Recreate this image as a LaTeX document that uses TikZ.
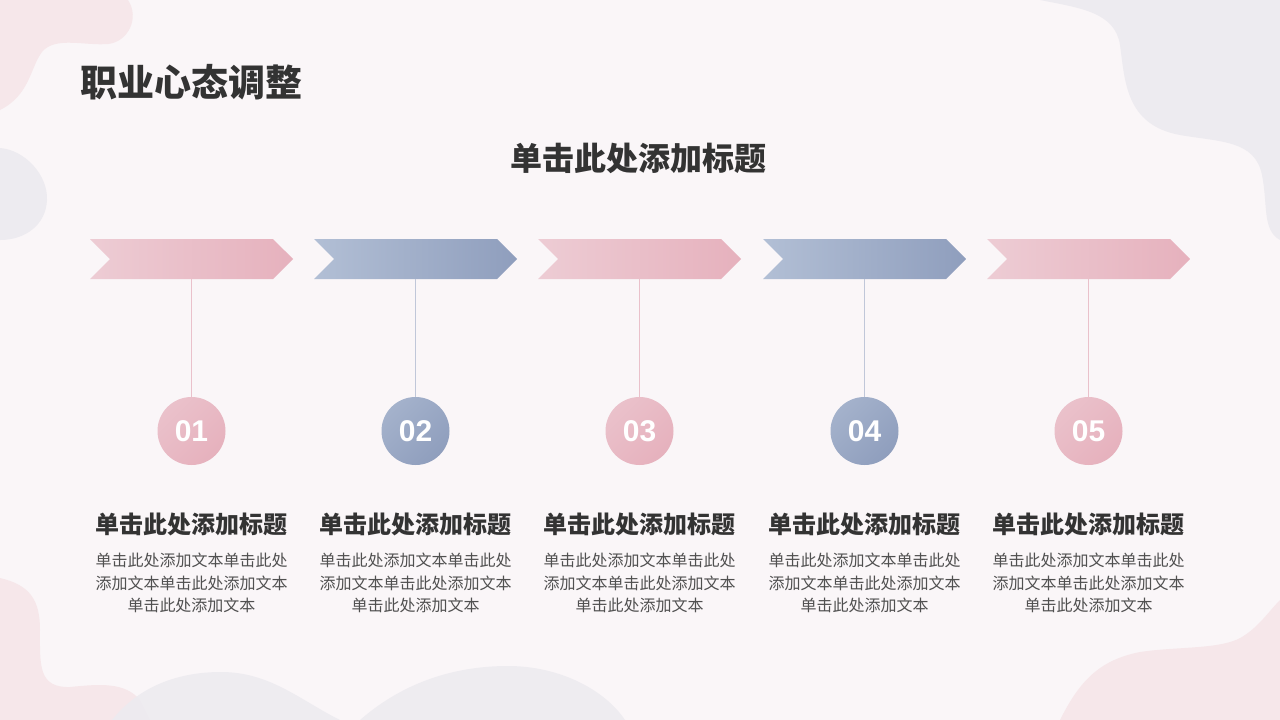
\documentclass[tikz,border=0pt]{standalone}
\usepackage{fontspec}
\setmainfont{Noto Sans CJK SC}
\newfontfamily\numfont{Liberation Sans}
\usepackage{tikz}
\usetikzlibrary{shapes,shapes.symbols,positioning}
\usepackage{xcolor}
\definecolor{bgCol}{HTML}{FAF6F8}
\definecolor{blobPink}{HTML}{F6E7EA}
\definecolor{blobGray}{HTML}{EDEBF0}
\definecolor{pinkL}{HTML}{EDCCD4}
\definecolor{pinkD}{HTML}{E6B1BD}
\definecolor{blueL}{HTML}{B2BFD5}
\definecolor{blueD}{HTML}{8F9EBD}
\definecolor{pinkLine}{HTML}{EAC1CB}
\definecolor{blueLine}{HTML}{C0C7D9}
\definecolor{titleGray}{HTML}{333333}
\definecolor{bodyGray}{HTML}{505050}
\tikzset{
    chevron/.style={
        signal,
        signal from=west,
        signal to=east,
        signal pointer angle=90,
        minimum width=203pt,
        minimum height=40pt,
        inner sep=0pt
    },
    pinkChev/.style={chevron, left color=pinkL, middle color=pinkD, right color=pinkD},
    blueChev/.style={chevron, left color=blueL, middle color=blueD, right color=blueD},
    numDot/.style={
        circle,
        minimum size=68pt,
        inner sep=0pt,
        text=white,
        font=\numfont\bfseries\fontsize{30}{30}\selectfont
    },
    pinkDot/.style={numDot, top color=pinkL!60!pinkD, bottom color=pinkD, shading angle=45},
    blueDot/.style={numDot, top color=blueL!60!blueD, bottom color=blueD, shading angle=45},
    pinkStem/.style={draw=pinkLine, line width=1.5pt},
    blueStem/.style={draw=blueLine, line width=1.5pt},
    itemHead/.style={font=\bfseries\fontsize{24}{28}\selectfont, text=titleGray},
    itemText/.style={font=\fontsize{16}{22.5}\selectfont, text=bodyGray, align=center},
}
\begin{document}
\begin{tikzpicture}[x=1pt, y=-1pt]
    % Background and blobs
    \fill[bgCol] (0,0) rectangle (1280,720);
    \useasboundingbox (0,0) rectangle (1280,720);
    \fill[blobPink] (0,0) -- (128,0) .. controls (140,18) and (128,42) .. (108,44) .. controls (85,46) and (55,36) .. (42,52) .. controls (30,68) and (30,95) .. (0,110) -- cycle;
    \fill[blobGray] (0,148) .. controls (25,150) and (48,175) .. (47,200) .. controls (46,225) and (25,240) .. (0,240) -- cycle;
    \fill[blobGray] (1040,0) .. controls (1080,8) and (1115,12) .. (1120,45) .. controls (1125,80) and (1125,125) .. (1180,135) .. controls (1220,142) and (1255,140) .. (1262,175) .. controls (1268,205) and (1262,230) .. (1280,240) -- (1280,0) -- cycle;
    \fill[blobPink] (0,578) .. controls (30,585) and (40,600) .. (40,630) .. controls (40,665) and (38,688) .. (70,687) .. controls (100,684) and (125,682) .. (140,700) -- (150,720) -- (0,720) -- cycle;
    \fill[blobGray, opacity=0.9] (112,720) .. controls (140,685) and (180,672) .. (221,672) .. controls (270,672) and (300,700) .. (340,720) -- cycle;
    \fill[blobGray, opacity=0.9] (360,720) .. controls (400,685) and (450,666) .. (508,666) .. controls (560,666) and (605,690) .. (625,720) -- cycle;
    \fill[blobPink] (1060,720) .. controls (1080,680) and (1100,660) .. (1140,652) .. controls (1180,646) and (1225,650) .. (1245,635) .. controls (1260,625) and (1270,610) .. (1280,600) -- (1280,720) -- cycle;

    % Titles
    \node[anchor=west, font=\bfseries\fontsize{37}{40}\selectfont, text=titleGray, inner sep=0pt] (title) at (80,82) {职业心态调整};
    \node[font=\bfseries\fontsize{32}{36}\selectfont, text=titleGray] (subtitle) at (638,158) {单击此处添加标题};

    % Item 1
    \node[pinkChev] (arr1) at (191.5,259) {};
    \node[pinkDot] (dot1) at (191.5,431) {01};
    \draw[pinkStem] (arr1.south) -- (dot1.north);
    \node[itemHead] (hd1) at (191.5,524) {单击此处添加标题};
    \node[itemText] (txt1) at (191.5,583) {单击此处添加文本单击此处\\添加文本单击此处添加文本\\单击此处添加文本};

    % Item 2
    \node[blueChev] (arr2) at (415.5,259) {};
    \node[blueDot] (dot2) at (415.5,431) {02};
    \draw[blueStem] (arr2.south) -- (dot2.north);
    \node[itemHead] (hd2) at (415.5,524) {单击此处添加标题};
    \node[itemText] (txt2) at (415.5,583) {单击此处添加文本单击此处\\添加文本单击此处添加文本\\单击此处添加文本};

    % Item 3
    \node[pinkChev] (arr3) at (639.5,259) {};
    \node[pinkDot] (dot3) at (639.5,431) {03};
    \draw[pinkStem] (arr3.south) -- (dot3.north);
    \node[itemHead] (hd3) at (639.5,524) {单击此处添加标题};
    \node[itemText] (txt3) at (639.5,583) {单击此处添加文本单击此处\\添加文本单击此处添加文本\\单击此处添加文本};

    % Item 4
    \node[blueChev] (arr4) at (864.5,259) {};
    \node[blueDot] (dot4) at (864.5,431) {04};
    \draw[blueStem] (arr4.south) -- (dot4.north);
    \node[itemHead] (hd4) at (864.5,524) {单击此处添加标题};
    \node[itemText] (txt4) at (864.5,583) {单击此处添加文本单击此处\\添加文本单击此处添加文本\\单击此处添加文本};

    % Item 5
    \node[pinkChev] (arr5) at (1088.5,259) {};
    \node[pinkDot] (dot5) at (1088.5,431) {05};
    \draw[pinkStem] (arr5.south) -- (dot5.north);
    \node[itemHead] (hd5) at (1088.5,524) {单击此处添加标题};
    \node[itemText] (txt5) at (1088.5,583) {单击此处添加文本单击此处\\添加文本单击此处添加文本\\单击此处添加文本};
\end{tikzpicture}
\end{document}
